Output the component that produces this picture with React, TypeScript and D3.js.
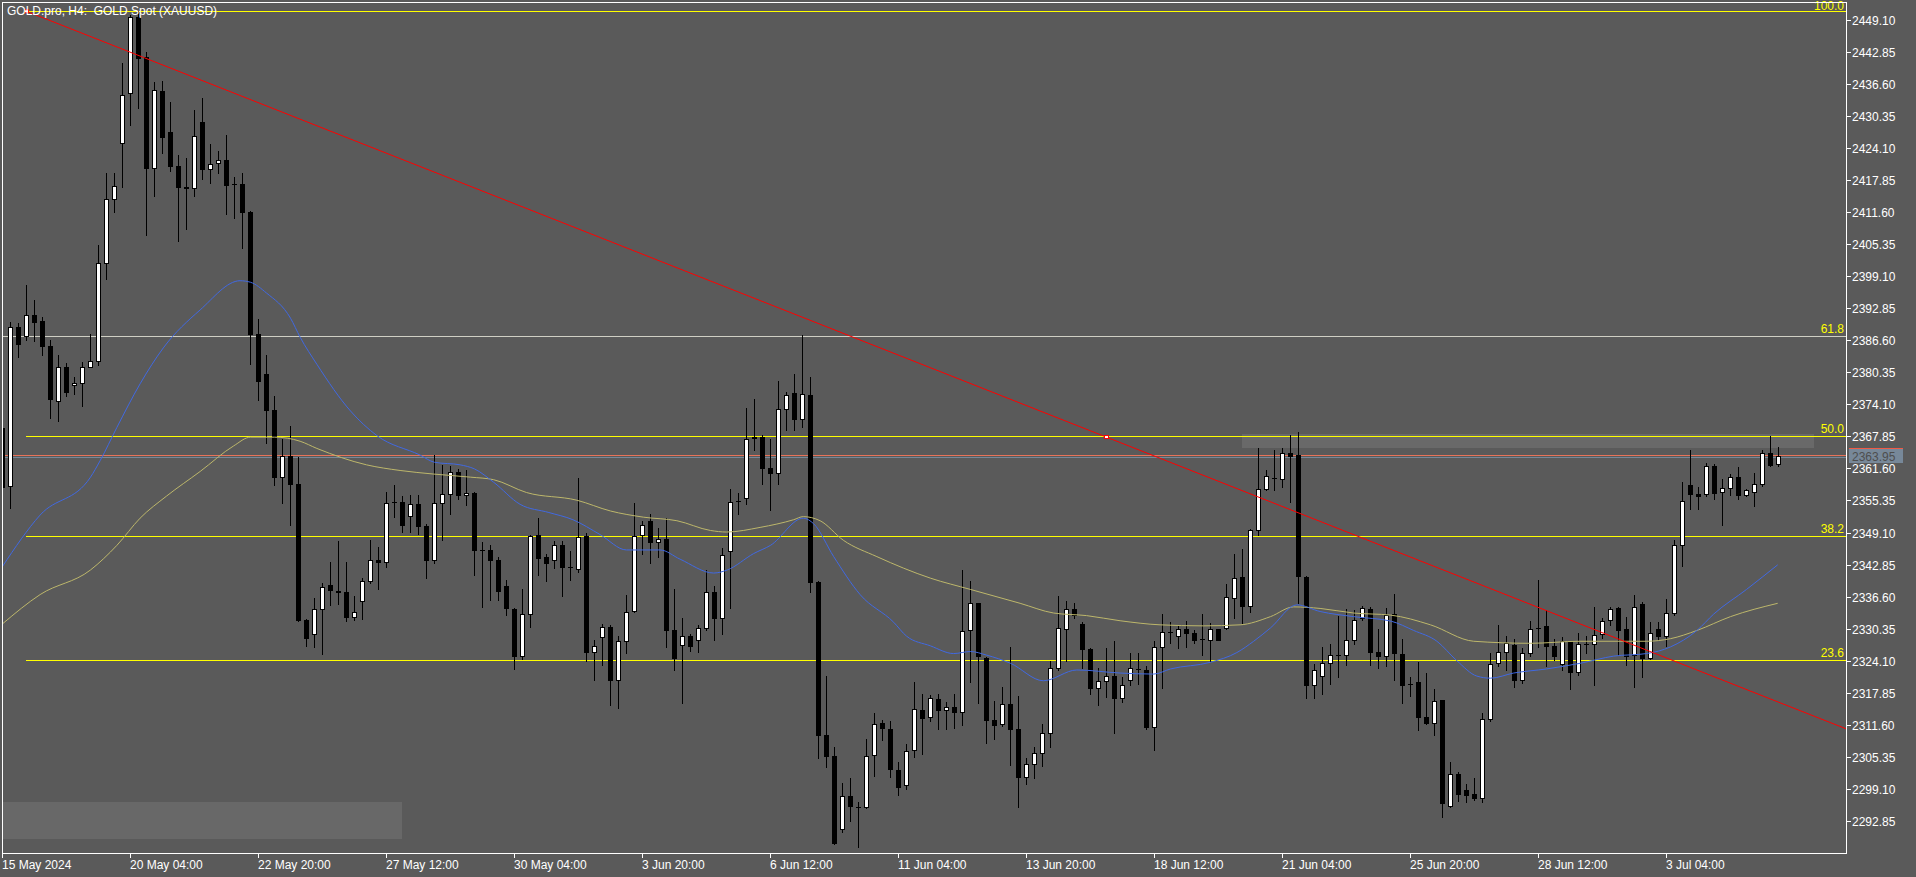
import { useEffect, useRef } from 'react';
import * as d3 from 'd3';

// GOLD.pro H4 candles (bar 0 = 15 May 2024 12:00)
const opens = [
  2369.5, 2358.1, 2389.2, 2387.5, 2391.5, 2390.4, 2385.4, 2374.7, 2381.3, 2377.8,
  2378.3, 2381.4, 2382.6, 2401.6, 2414.2, 2425.1, 2434.8, 2449.6, 2441.9, 2420.1,
  2435.1, 2427.2, 2420.5, 2416.5, 2416.3, 2429.2, 2419.9, 2421.1, 2421.8, 2417.1,
  2417.1, 2411.6, 2387.9, 2380.1, 2373.0, 2359.9, 2364.1, 2358.6, 2332.0, 2329.4,
  2334.1, 2338.8, 2337.7, 2337.6, 2332.7, 2335.8, 2339.7, 2343.7, 2343.4, 2355.0,
  2355.0, 2352.4, 2354.6, 2350.3, 2343.7, 2354.8, 2356.7, 2361.0, 2356.4, 2356.8,
  2345.7, 2345.7, 2343.7, 2338.6, 2334.1, 2325.0, 2333.3, 2348.7, 2344.4, 2343.7,
  2346.6, 2342.3, 2342.0, 2348.5, 2325.9, 2328.7, 2330.7, 2320.4, 2327.9, 2333.8,
  2348.7, 2351.4, 2347.3, 2347.8, 2330.0, 2327.2, 2328.9, 2328.1, 2330.5, 2337.5,
  2332.4, 2345.5, 2355.3, 2355.9, 2367.5, 2367.7, 2361.7, 2360.8, 2373.2, 2376.4,
  2371.2, 2376.0, 2339.4, 2309.7, 2305.6, 2291.2, 2297.7, 2295.6, 2295.5, 2305.8,
  2312.0, 2310.8, 2302.7, 2299.8, 2306.7, 2314.4, 2313.1, 2316.6, 2314.5, 2315.0,
  2314.2, 2330.0, 2335.3, 2324.7, 2312.6, 2311.8, 2315.6, 2310.8, 2301.5, 2304.0,
  2306.1, 2310.0, 2322.7, 2330.2, 2334.2, 2331.3, 2326.3, 2318.7, 2320.2, 2321.1,
  2316.8, 2320.4, 2322.5, 2322.3, 2311.1, 2326.8, 2329.8, 2328.9, 2330.3, 2329.5,
  2328.4, 2328.2, 2330.2, 2330.5, 2336.4, 2340.5, 2334.7, 2349.5, 2357.5, 2359.7,
  2359.6, 2364.6, 2364.2, 2340.4, 2319.3, 2321.2, 2323.6, 2325.2, 2325.2, 2328.1,
  2332.4, 2334.1, 2325.9, 2325.0, 2333.2, 2325.4, 2319.5, 2320.0, 2313.1, 2312.0,
  2316.4, 2295.8, 2302.0, 2298.8, 2298.1, 2297.4, 2312.7, 2323.6, 2325.9, 2327.1,
  2320.4, 2325.7, 2330.5, 2330.8, 2327.0, 2323.4, 2327.9, 2322.0, 2327.3, 2327.3,
  2329.4, 2332.1, 2334.3, 2330.2, 2325.2, 2335.1, 2324.6, 2330.2, 2328.9, 2333.4,
  2346.6, 2358.3, 2356.7, 2356.7, 2362.1, 2357.0, 2357.8, 2359.9, 2356.4, 2357.0,
  2358.6, 2364.7, 2362.4,
];
const highs = [
  2370.2, 2390.2, 2389.9, 2397.4, 2394.5, 2391.1, 2386.7, 2383.7, 2382.1, 2379.4,
  2382.4, 2387.9, 2405.2, 2419.3, 2419.3, 2440.6, 2450.0, 2450.7, 2442.8, 2436.9,
  2437.2, 2433.1, 2422.7, 2422.2, 2431.5, 2433.9, 2424.9, 2423.5, 2426.7, 2418.4,
  2419.3, 2411.8, 2390.7, 2383.7, 2375.8, 2367.4, 2369.9, 2363.9, 2332.2, 2336.4,
  2339.3, 2343.4, 2347.4, 2343.3, 2336.7, 2340.3, 2347.6, 2346.3, 2357.0, 2358.4,
  2356.2, 2356.4, 2356.4, 2350.8, 2364.2, 2362.3, 2362.1, 2361.5, 2361.3, 2357.0,
  2347.2, 2346.6, 2344.4, 2339.9, 2334.3, 2338.0, 2348.7, 2351.9, 2345.0, 2347.4,
  2347.4, 2345.5, 2359.7, 2349.0, 2328.2, 2331.2, 2331.1, 2328.9, 2337.0, 2354.9,
  2351.4, 2352.8, 2350.0, 2351.9, 2338.0, 2332.4, 2329.4, 2331.1, 2341.8, 2338.6,
  2346.0, 2357.5, 2356.9, 2373.3, 2375.2, 2368.2, 2367.4, 2378.6, 2376.5, 2380.0,
  2387.7, 2379.4, 2339.6, 2321.1, 2307.3, 2300.3, 2301.3, 2296.6, 2308.9, 2314.0,
  2312.6, 2312.4, 2304.3, 2307.8, 2320.0, 2317.7, 2317.4, 2317.7, 2316.1, 2317.7,
  2341.8, 2339.6, 2335.4, 2324.8, 2316.3, 2319.0, 2326.8, 2317.2, 2305.2, 2307.3,
  2311.8, 2324.1, 2336.7, 2335.7, 2335.3, 2331.6, 2326.5, 2322.7, 2326.5, 2327.9,
  2320.9, 2325.7, 2325.7, 2323.0, 2327.9, 2333.2, 2331.6, 2331.1, 2331.8, 2330.0,
  2333.2, 2331.4, 2330.3, 2339.1, 2345.0, 2345.8, 2349.8, 2365.5, 2361.2, 2365.1,
  2365.5, 2368.2, 2368.7, 2340.7, 2323.4, 2326.8, 2327.3, 2332.9, 2334.1, 2333.9,
  2334.8, 2334.5, 2330.3, 2334.3, 2337.2, 2328.4, 2320.9, 2323.8, 2321.8, 2318.6,
  2316.5, 2304.3, 2302.4, 2300.1, 2301.3, 2314.0, 2325.7, 2331.1, 2328.9, 2328.4,
  2326.5, 2331.9, 2339.9, 2333.9, 2328.4, 2328.7, 2328.0, 2329.5, 2328.9, 2334.5,
  2332.4, 2334.6, 2334.6, 2332.7, 2337.0, 2335.6, 2331.6, 2331.6, 2336.1, 2347.6,
  2358.9, 2365.1, 2358.0, 2362.6, 2362.4, 2359.6, 2360.5, 2361.9, 2357.5, 2360.7,
  2365.1, 2367.9, 2365.8,
];
const lows = [
  2357.0, 2353.8, 2383.4, 2386.7, 2386.4, 2383.7, 2371.5, 2370.9, 2375.8, 2376.2,
  2373.8, 2381.3, 2381.8, 2398.6, 2411.6, 2416.4, 2428.6, 2431.8, 2407.2, 2414.7,
  2423.2, 2419.5, 2405.9, 2408.3, 2414.8, 2418.0, 2417.3, 2419.2, 2411.2, 2410.5,
  2404.6, 2381.9, 2374.9, 2366.6, 2358.3, 2354.9, 2350.5, 2331.8, 2327.0, 2326.8,
  2325.5, 2335.0, 2335.2, 2331.8, 2332.1, 2332.3, 2339.3, 2338.0, 2342.3, 2352.1,
  2349.2, 2349.2, 2348.9, 2340.2, 2343.2, 2347.6, 2352.8, 2355.7, 2354.4, 2340.8,
  2334.5, 2335.9, 2335.9, 2333.0, 2322.5, 2324.4, 2330.7, 2340.8, 2339.7, 2342.1,
  2336.7, 2339.8, 2341.4, 2324.1, 2320.4, 2323.3, 2315.5, 2314.8, 2325.7, 2333.6,
  2344.9, 2343.2, 2344.3, 2326.8, 2322.3, 2315.8, 2326.0, 2325.9, 2330.0, 2328.1,
  2329.4, 2334.3, 2352.7, 2354.6, 2365.1, 2358.5, 2353.5, 2358.5, 2369.0, 2369.0,
  2369.6, 2337.5, 2305.1, 2303.3, 2288.3, 2290.7, 2292.8, 2287.8, 2295.3, 2301.6,
  2308.6, 2301.4, 2297.9, 2299.0, 2305.4, 2305.9, 2312.4, 2310.8, 2310.8, 2311.0,
  2311.6, 2320.0, 2315.8, 2308.1, 2308.8, 2311.3, 2303.8, 2295.5, 2300.1, 2301.3,
  2303.5, 2307.3, 2322.3, 2324.1, 2332.4, 2322.7, 2317.7, 2315.4, 2317.0, 2310.0,
  2316.1, 2319.3, 2319.5, 2310.8, 2306.7, 2318.8, 2327.6, 2326.6, 2326.8, 2327.6,
  2325.2, 2324.1, 2328.1, 2330.2, 2332.4, 2331.4, 2333.7, 2348.7, 2357.4, 2357.3,
  2358.0, 2355.1, 2335.3, 2316.8, 2316.8, 2317.7, 2319.6, 2320.9, 2323.3, 2327.3,
  2332.1, 2323.3, 2322.7, 2323.0, 2320.4, 2315.8, 2317.2, 2310.5, 2311.8, 2309.7,
  2293.6, 2295.5, 2296.8, 2296.6, 2296.9, 2296.5, 2312.4, 2323.0, 2322.3, 2319.0,
  2319.8, 2325.0, 2326.8, 2323.0, 2324.3, 2322.3, 2318.6, 2321.4, 2325.7, 2319.3,
  2328.6, 2331.1, 2325.2, 2323.3, 2319.0, 2320.9, 2324.4, 2328.4, 2327.0, 2333.0,
  2342.5, 2353.7, 2353.7, 2356.2, 2355.6, 2350.5, 2356.4, 2355.6, 2356.2, 2354.3,
  2358.1, 2362.1, 2362.1,
];
const closes = [
  2358.0, 2389.1, 2385.8, 2391.5, 2390.1, 2385.4, 2375.1, 2381.3, 2376.5, 2378.3,
  2381.3, 2382.6, 2401.6, 2414.1, 2416.6, 2434.5, 2449.6, 2441.6, 2420.1, 2435.3,
  2426.2, 2420.5, 2416.4, 2416.3, 2426.5, 2419.9, 2421.0, 2421.8, 2416.9, 2417.0,
  2411.6, 2387.9, 2378.6, 2373.0, 2359.9, 2364.1, 2358.6, 2332.0, 2328.6, 2334.1,
  2338.4, 2337.8, 2337.6, 2332.6, 2333.6, 2339.6, 2343.7, 2343.4, 2354.9, 2355.0,
  2350.6, 2354.6, 2350.3, 2343.7, 2354.8, 2356.7, 2361.0, 2356.4, 2356.8, 2345.6,
  2345.7, 2343.7, 2337.7, 2334.3, 2325.0, 2333.3, 2348.5, 2344.2, 2343.2, 2346.6,
  2342.3, 2342.3, 2348.2, 2325.9, 2326.9, 2330.7, 2320.4, 2327.9, 2333.7, 2348.4,
  2350.5, 2347.3, 2347.8, 2330.0, 2324.7, 2328.9, 2327.0, 2330.5, 2337.5, 2332.4,
  2344.7, 2355.1, 2355.3, 2367.4, 2367.7, 2361.7, 2360.8, 2373.1, 2376.0, 2371.2,
  2376.2, 2339.4, 2309.7, 2305.6, 2288.5, 2297.7, 2295.8, 2295.5, 2305.6, 2311.8,
  2311.0, 2303.0, 2299.5, 2306.5, 2314.6, 2312.9, 2316.8, 2314.5, 2315.0, 2314.1,
  2329.9, 2335.3, 2325.0, 2312.6, 2311.6, 2315.6, 2310.8, 2301.5, 2304.0, 2306.1,
  2310.0, 2322.7, 2330.4, 2334.2, 2333.0, 2326.3, 2318.8, 2320.2, 2321.1, 2316.8,
  2319.3, 2322.6, 2322.5, 2311.1, 2326.8, 2329.8, 2329.8, 2330.3, 2329.5, 2328.1,
  2328.4, 2330.2, 2328.2, 2336.6, 2340.2, 2334.7, 2349.5, 2357.5, 2360.2, 2359.7,
  2364.6, 2364.0, 2340.7, 2319.3, 2322.3, 2323.6, 2325.2, 2325.2, 2328.1, 2332.1,
  2334.3, 2325.9, 2325.0, 2333.0, 2325.7, 2319.3, 2319.5, 2313.1, 2312.0, 2316.3,
  2296.3, 2302.0, 2298.1, 2297.9, 2297.4, 2312.7, 2323.4, 2325.9, 2327.5, 2320.4,
  2325.7, 2330.3, 2330.5, 2327.0, 2325.0, 2327.9, 2322.0, 2327.3, 2327.3, 2329.2,
  2331.8, 2334.1, 2330.0, 2325.0, 2334.5, 2324.6, 2329.5, 2329.0, 2333.4, 2346.6,
  2355.3, 2356.7, 2356.2, 2362.1, 2356.9, 2357.8, 2359.9, 2356.4, 2357.3, 2358.6,
  2364.7, 2362.3, 2363.95,
];

// moving averages, sampled along the drawn curves: [bar, price]
const maFast: [number, number][] = [
  [0, 2342.5], [4.7, 2352.5], [11, 2359.9], [12.2, 2363.1], [14.3, 2369.6], [17.2, 2378.1],
  [20.1, 2385.1], [24.7, 2392.5], [29.7, 2398.2], [31, 2397.9], [33, 2395.8], [36, 2390.9],
  [37.2, 2387.2], [39.3, 2381.9], [43.5, 2372.8], [46.8, 2368.0], [52.2, 2364.2], [54, 2362.8],
  [57.2, 2362.3], [59, 2361.5], [61.4, 2358.9], [64.7, 2354.6], [68.3, 2353.0], [71.3, 2351.6],
  [74.7, 2348.7], [78, 2345.7], [82.2, 2345.7], [84.7, 2343.9], [88.9, 2341.2], [90.6, 2341.8],
  [93.9, 2345.0], [96, 2346.6], [100.1, 2351.9], [101.4, 2350.8], [103.9, 2344.4], [107.2, 2337.0],
  [111.4, 2331.6], [113, 2328.9], [116, 2327.0], [118.9, 2325.5], [121, 2325.9], [123, 2325.2],
  [126, 2323.6], [130.1, 2320.2], [134.3, 2322.3], [139.7, 2321.7], [143.9, 2321.5], [146, 2322.5],
  [151, 2323.8], [154.3, 2325.7], [156.4, 2327.9], [158.5, 2330.5], [161.8, 2335.0], [164.7, 2333.7],
  [168.9, 2332.7], [173.6, 2331.8], [176.4, 2330.0], [179.3, 2327.9], [181.8, 2324.1], [184.3, 2321.1],
  [186, 2320.7], [188.9, 2321.7], [193, 2322.5], [197.2, 2323.6], [201.4, 2325.0], [205.5, 2325.5],
  [208.5, 2326.8], [211.8, 2330.0], [213.9, 2333.2], [218, 2338.0], [221.9, 2342.8],
];
const maSlow: [number, number][] = [
  [0, 2331.3], [4.7, 2337.0], [11, 2341.8], [14.3, 2346.6], [17.2, 2351.9], [20.5, 2356.2],
  [24.7, 2361.0], [28.9, 2366.0], [31, 2367.7], [34, 2367.7], [37.2, 2366.9], [39.3, 2365.5],
  [45.5, 2362.3], [49.7, 2361.2], [53.9, 2360.5], [58.5, 2359.9], [61.4, 2359.4], [65.5, 2356.9],
  [71.8, 2355.4], [76, 2353.3], [80.1, 2352.1], [84.3, 2351.4], [88.5, 2349.5], [90.5, 2349.2],
  [94.7, 2350.1], [98.9, 2351.6], [100.1, 2352.2], [102.2, 2351.4], [105.1, 2347.6], [109.3, 2344.4],
  [116, 2340.2], [121, 2338.0], [127.2, 2335.3], [131.4, 2333.4], [135.5, 2332.9], [139.7, 2331.9],
  [144.7, 2331.1], [150.1, 2330.9], [154.7, 2331.1], [158.5, 2332.7], [161.4, 2334.6], [164.7, 2334.3],
  [168.9, 2333.4], [173.5, 2333.0], [178.5, 2331.1], [183.9, 2327.9], [191, 2327.5], [197.2, 2327.9],
  [205.5, 2327.9], [208.5, 2328.4], [211.8, 2330.0], [216, 2332.7], [221.9, 2335.3],
];

const timeLabels = [
  '15 May 2024', '20 May 04:00', '22 May 20:00', '27 May 12:00', '30 May 04:00', '3 Jun 20:00',
  '6 Jun 12:00', '11 Jun 04:00', '13 Jun 20:00', '18 Jun 12:00', '21 Jun 04:00', '25 Jun 20:00',
  '28 Jun 12:00', '3 Jul 04:00',
];
const barsPerLabel = 16;
const priceTicks = [
  2449.10, 2442.85, 2436.60, 2430.35, 2424.10, 2417.85, 2411.60, 2405.35, 2399.10, 2392.85,
  2386.60, 2380.35, 2374.10, 2367.85, 2361.60, 2355.35, 2349.10, 2342.85, 2336.60, 2330.35,
  2324.10, 2317.85, 2311.60, 2305.35, 2299.10, 2292.85,
];

// objects on the chart
const fibHigh = 2450.74;
const fibLow = 2285.05;
const fibStartBar = 3;
const fibLevels = [100, 61.8, 50, 38.2, 23.6];
const trendAnchors: [number, number][] = [[3, 2450.74], [138, 2367.72]];
const zoneBars = [155, 226.5];
const zonePrices = [2368.27, 2365.6];
const panelBars = [0, 50];
const panelPrices = [2296.55, 2289.33];
const bid = 2363.95;
const ask = 2364.16;

const W = 1916;
const H = 877;
const BG = '#5a5a5a';
const FONT = '"Liberation Sans", Arial, sans-serif';

export default function App() {
  const svgRef = useRef<SVGSVGElement>(null);

  useEffect(() => {
    if (!svgRef.current) return;
    const svg = d3.select(svgRef.current);
    svg.selectAll('*').remove();

    const left = 2;
    const right = 1846;
    const top = 2;
    const bottom = 853;

    const x = d3.scaleLinear().domain([0, 1]).range([2, 10]); // pixel column of a bar
    const y = d3.scaleLinear().domain([2286.61, 2452.55]).range([853, 2]);
    const ry = (p: number) => Math.round(y(p));

    svg.append('rect').attr('width', W).attr('height', H).attr('fill', BG);

    svg.append('defs').append('clipPath').attr('id', 'plot')
      .append('rect').attr('x', left + 1).attr('y', top + 1)
      .attr('width', right - left - 1).attr('height', bottom - top - 1);

    const plot = svg.append('g').attr('clip-path', 'url(#plot)').attr('shape-rendering', 'crispEdges');

    // gray boxes
    plot.append('rect')
      .attr('x', x(zoneBars[0])).attr('y', ry(zonePrices[0]))
      .attr('width', x(zoneBars[1]) - x(zoneBars[0])).attr('height', ry(zonePrices[1]) - ry(zonePrices[0]))
      .attr('fill', '#696969');
    plot.append('rect')
      .attr('x', x(panelBars[0])).attr('y', ry(panelPrices[0]))
      .attr('width', x(panelBars[1]) - x(panelBars[0])).attr('height', ry(panelPrices[1]) - ry(panelPrices[0]))
      .attr('fill', '#686868');

    // fibonacci levels (61.8 is overlaid by a light gray horizontal line)
    const fibPrice = (l: number) => fibLow + (fibHigh - fibLow) * l / 100;
    fibLevels.forEach((l) => {
      const yy = ry(fibPrice(l)) + 0.5;
      const gray = l === 61.8;
      plot.append('line')
        .attr('x1', gray ? left : x(fibStartBar)).attr('x2', right)
        .attr('y1', yy).attr('y2', yy)
        .attr('stroke', gray ? '#cfcfc4' : '#ffff00');
    });

    // ask / bid lines
    plot.append('line').attr('x1', left).attr('x2', right)
      .attr('y1', ry(ask) + 0.5).attr('y2', ry(ask) + 0.5).attr('stroke', '#e8735a');
    plot.append('line').attr('x1', left).attr('x2', right)
      .attr('y1', ry(bid) + 1.5).attr('y2', ry(bid) + 1.5).attr('stroke', '#778899');

    // moving averages
    const maLine = d3.line<[number, number]>()
      .x((d) => x(d[0]) + 0.5)
      .y((d) => y(d[1]))
      .curve(d3.curveMonotoneX);
    const maG = svg.append('g').attr('clip-path', 'url(#plot)');
    maG.append('path').datum(maSlow).attr('d', maLine)
      .attr('fill', 'none').attr('stroke', '#bdb76b').attr('stroke-width', 1);
    maG.append('path').datum(maFast).attr('d', maLine)
      .attr('fill', 'none').attr('stroke', '#4169e1').attr('stroke-width', 1);

    // candles
    const candles = plot.append('g');
    opens.forEach((o, i) => {
      const c = closes[i];
      const cx = x(i);
      const hy = ry(highs[i]);
      const ly = ry(lows[i]);
      candles.append('rect').attr('x', cx).attr('y', hy)
        .attr('width', 1).attr('height', ly - hy + 1).attr('fill', '#000');
      const bt = ry(Math.max(o, c));
      const bb = ry(Math.min(o, c));
      candles.append('rect').attr('x', cx - 2).attr('y', bt)
        .attr('width', 5).attr('height', bb - bt + 1).attr('fill', '#000');
      if (c > o && bb - bt >= 2) {
        candles.append('rect').attr('x', cx - 1).attr('y', bt + 1)
          .attr('width', 3).attr('height', bb - bt - 1).attr('fill', '#fff');
      }
    });

    // trend line (ray)
    const [a, b] = trendAnchors;
    const slope = (b[1] - a[1]) / (b[0] - a[0]);
    const endBar = x.invert(right);
    const trendG = svg.append('g').attr('clip-path', 'url(#plot)');
    trendG.append('line')
      .attr('x1', x(a[0]) + 0.5).attr('y1', y(a[1]))
      .attr('x2', x(endBar)).attr('y2', y(a[1] + slope * (endBar - a[0])))
      .attr('stroke', '#ff0000').attr('stroke-width', 1);
    trendAnchors.forEach((p) => {
      trendG.append('rect')
        .attr('x', x(p[0]) - 1.5).attr('y', y(p[1]) - 1.5)
        .attr('width', 4).attr('height', 3)
        .attr('fill', '#fff').attr('stroke', '#ff0000').attr('stroke-width', 1);
    });

    // fib labels
    fibLevels.forEach((l) => {
      const yy = ry(fibPrice(l));
      svg.append('text')
        .attr('x', right - 2).attr('y', l === 100 ? yy - 1 : yy - 3)
        .attr('text-anchor', 'end')
        .attr('fill', '#ffff00')
        .style('font-family', FONT).style('font-size', '12px')
        .text(l.toFixed(1));
    });

    // frame
    svg.append('rect')
      .attr('x', left + 0.5).attr('y', top + 0.5)
      .attr('width', right - left).attr('height', bottom - top)
      .attr('fill', 'none').attr('stroke', '#fff').attr('shape-rendering', 'crispEdges');

    // price axis
    priceTicks.forEach((p) => {
      const yy = ry(p);
      svg.append('line').attr('x1', right + 1).attr('x2', right + 5)
        .attr('y1', yy + 0.5).attr('y2', yy + 0.5)
        .attr('stroke', '#fff').attr('shape-rendering', 'crispEdges');
      svg.append('text').attr('x', right + 6).attr('y', yy + 5)
        .attr('fill', '#fff')
        .style('font-family', FONT).style('font-size', '12px')
        .text(p.toFixed(2));
    });

    // current price label
    const by = ry(bid);
    svg.append('rect').attr('x', right + 3).attr('y', by - 7)
      .attr('width', 54).attr('height', 14).attr('fill', '#778899');
    svg.append('line').attr('x1', right + 3).attr('x2', right + 57)
      .attr('y1', by - 7.5).attr('y2', by - 7.5)
      .attr('stroke', '#f05a46').attr('shape-rendering', 'crispEdges');
    svg.append('text').attr('x', right + 6).attr('y', by + 5)
      .attr('fill', '#4e4e4e')
      .style('font-family', FONT).style('font-size', '12px')
      .text(bid.toFixed(2));

    // time axis
    timeLabels.forEach((t, k) => {
      const tx = x(k * barsPerLabel);
      svg.append('line').attr('x1', tx + 0.5).attr('x2', tx + 0.5)
        .attr('y1', bottom).attr('y2', bottom + 5)
        .attr('stroke', '#fff').attr('shape-rendering', 'crispEdges');
      svg.append('text').attr('x', tx).attr('y', bottom + 16)
        .attr('fill', '#fff')
        .style('font-family', FONT).style('font-size', '12px')
        .text(t);
    });

    // title
    svg.append('text').attr('x', 7).attr('y', 15)
      .attr('fill', '#fff')
      .style('font-family', FONT).style('font-size', '12px')
      .style('white-space', 'pre')
      .text('GOLD.pro, H4:  GOLD Spot (XAUUSD)');
  }, []);

  return (
    <div style={{ position: 'fixed', left: 0, top: 0, width: W, height: H, background: BG }}>
      <svg ref={svgRef} width={W} height={H} style={{ display: 'block' }} />
    </div>
  );
}
